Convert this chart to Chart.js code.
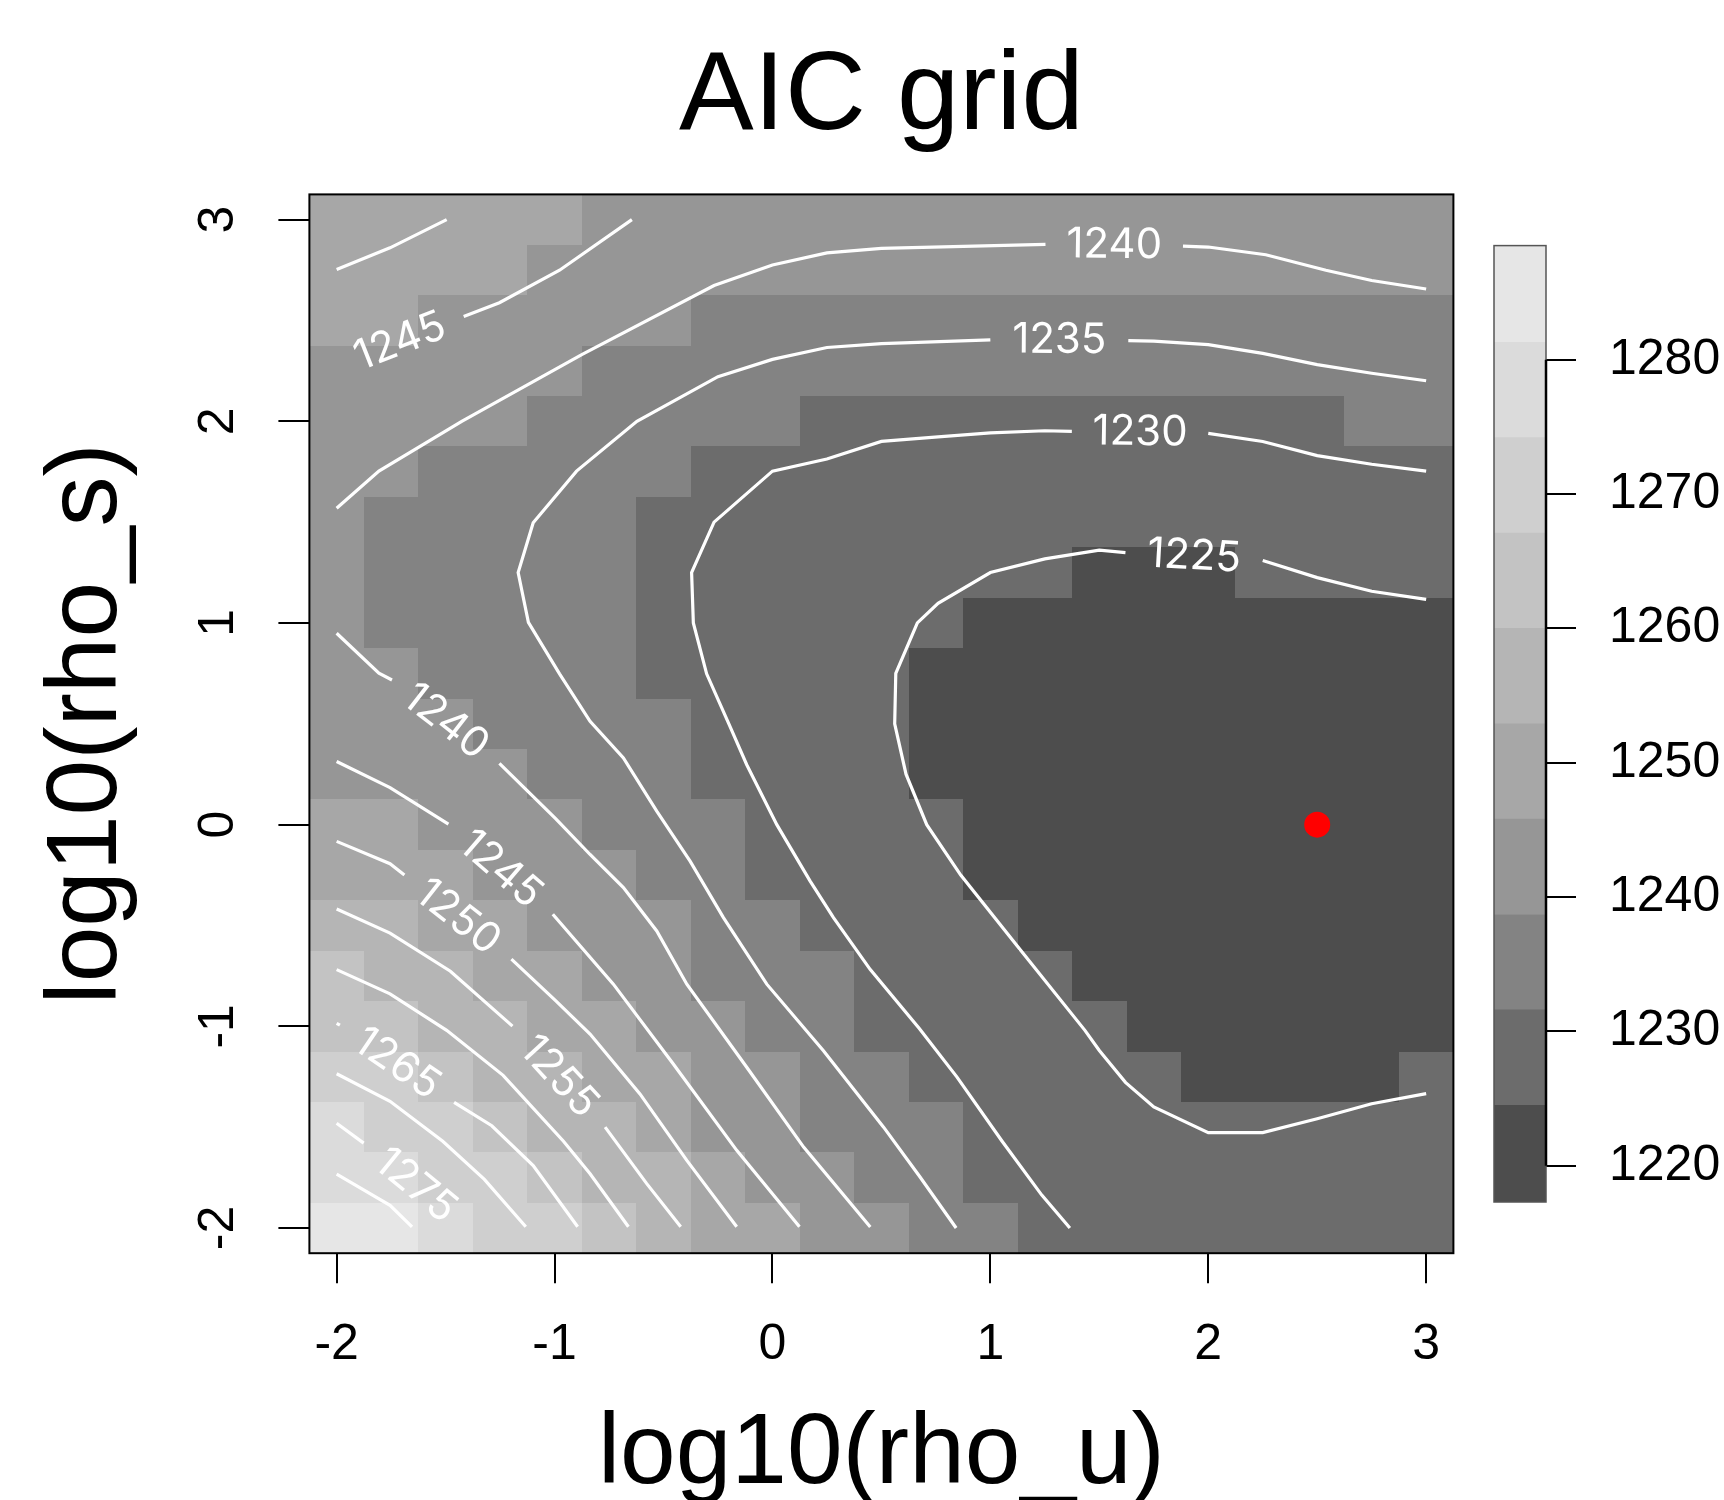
<!DOCTYPE html>
<html>
<head>
<meta charset="utf-8">
<title>AIC grid</title>
<script src="https://cdn.jsdelivr.net/npm/chart.js@4.4.1/dist/chart.umd.min.js"></script>
<style>
  html, body { margin: 0; padding: 0; background: #fff; }
  #wrap { position: relative; width: 1724px; height: 1500px; overflow: hidden; }
  #grid { position: absolute; left: 0; top: 0; }
  #bar { position: absolute; left: 1460px; top: 0; }
</style>
</head>
<body>
<div id="wrap">
  <canvas id="grid" width="1724" height="1500"></canvas>
  <canvas id="bar" width="264" height="1500"></canvas>
</div>
<script>
const FONT = "'Liberation Sans', Arial, Helvetica, sans-serif";

// grid of log10(rho_u) (columns) and log10(rho_s) (rows, listed top to bottom)
const rhoU = [-2, -1.75, -1.5, -1.25, -1, -0.75, -0.5, -0.25, 0, 0.25, 0.5, 0.75, 1, 1.25, 1.5, 1.75, 2, 2.25, 2.5, 2.75, 3];
const rhoS = [3, 2.75, 2.5, 2.25, 2, 1.75, 1.5, 1.25, 1, 0.75, 0.5, 0.25, 0, -0.25, -0.5, -0.75, -1, -1.25, -1.5, -1.75, -2];

// AIC per grid cell, one row per rhoS value
const aic = [
  [1252.5, 1251.5, 1250.0, 1249.1, 1247.5, 1245.7, 1244.9, 1243.4, 1242.5, 1241.8, 1241.5, 1241.4, 1241.3, 1241.3, 1241.3, 1241.4, 1241.5, 1241.9, 1242.5, 1243.0, 1243.8],
  [1250.0, 1248.9, 1247.6, 1246.6, 1245.1, 1243.4, 1242.2, 1240.8, 1239.7, 1239.1, 1238.8, 1238.8, 1238.8, 1238.8, 1238.8, 1238.8, 1238.8, 1239.2, 1240.0, 1240.6, 1241.0],
  [1247.4, 1246.3, 1245.3, 1244.1, 1242.5, 1241.0, 1239.6, 1238.0, 1237.1, 1236.4, 1236.2, 1236.1, 1236.0, 1236.0, 1236.0, 1236.1, 1236.3, 1236.7, 1237.3, 1237.8, 1238.3],
  [1244.8, 1243.9, 1242.8, 1241.5, 1240.0, 1238.5, 1236.9, 1235.3, 1234.5, 1234.0, 1233.6, 1233.4, 1233.3, 1233.3, 1233.3, 1233.4, 1233.5, 1234.0, 1234.4, 1235.1, 1235.5],
  [1243.1, 1241.8, 1240.4, 1239.0, 1237.9, 1236.1, 1234.4, 1233.4, 1232.2, 1231.4, 1231.0, 1230.8, 1230.4, 1230.5, 1230.6, 1230.6, 1230.7, 1231.1, 1231.4, 1232.4, 1232.8],
  [1241.3, 1239.6, 1238.5, 1237.4, 1236.0, 1234.0, 1232.6, 1231.4, 1230.0, 1229.6, 1229.2, 1229.0, 1228.6, 1228.4, 1228.3, 1228.3, 1228.4, 1228.7, 1229.1, 1229.9, 1230.0],
  [1239.6, 1238.5, 1237.3, 1235.9, 1234.5, 1232.6, 1231.3, 1229.9, 1228.9, 1228.2, 1227.7, 1227.4, 1226.8, 1226.4, 1226.2, 1226.2, 1226.3, 1226.6, 1227.1, 1227.7, 1228.0],
  [1239.1, 1237.9, 1236.6, 1235.3, 1233.8, 1232.0, 1230.8, 1228.9, 1228.3, 1227.0, 1226.7, 1225.9, 1225.0, 1224.6, 1224.2, 1224.1, 1224.2, 1224.6, 1225.2, 1225.7, 1226.0],
  [1239.7, 1238.5, 1236.8, 1235.5, 1234.2, 1232.1, 1230.9, 1228.6, 1228.0, 1226.5, 1226.0, 1224.7, 1223.7, 1223.0, 1222.8, 1222.7, 1222.6, 1222.6, 1222.9, 1223.3, 1223.8],
  [1241.6, 1239.8, 1237.9, 1236.6, 1235.3, 1232.9, 1231.4, 1229.3, 1228.0, 1226.4, 1225.5, 1224.2, 1223.0, 1222.6, 1222.3, 1222.1, 1222.0, 1221.8, 1221.9, 1222.2, 1222.5],
  [1243.5, 1242.0, 1240.1, 1238.3, 1237.0, 1234.4, 1232.6, 1230.6, 1228.4, 1226.6, 1225.2, 1224.0, 1222.8, 1222.3, 1222.0, 1221.8, 1221.5, 1221.3, 1221.2, 1221.5, 1221.8],
  [1245.7, 1244.4, 1242.6, 1240.5, 1238.5, 1236.2, 1233.9, 1231.4, 1229.2, 1227.3, 1225.5, 1224.2, 1222.8, 1222.2, 1221.9, 1221.5, 1221.2, 1220.9, 1220.8, 1221.0, 1221.3],
  [1249.0, 1247.4, 1245.1, 1242.9, 1240.4, 1238.1, 1235.1, 1233.0, 1230.3, 1228.4, 1226.4, 1224.7, 1223.0, 1222.3, 1221.9, 1221.5, 1221.1, 1220.7, 1220.6, 1220.9, 1221.1],
  [1252.5, 1250.8, 1248.1, 1245.4, 1242.9, 1240.1, 1237.2, 1234.2, 1231.4, 1229.5, 1227.5, 1225.8, 1223.6, 1222.6, 1222.1, 1221.6, 1221.2, 1220.8, 1220.8, 1221.0, 1221.2],
  [1256.4, 1254.4, 1251.5, 1248.5, 1245.6, 1242.5, 1239.3, 1235.7, 1233.1, 1230.6, 1228.6, 1226.8, 1225.3, 1223.4, 1222.5, 1221.9, 1221.4, 1221.1, 1221.0, 1221.3, 1221.5],
  [1260.6, 1258.5, 1255.6, 1252.0, 1248.6, 1244.9, 1241.6, 1237.8, 1234.5, 1232.3, 1229.8, 1228.0, 1226.5, 1224.9, 1223.0, 1222.3, 1221.8, 1221.5, 1221.5, 1221.7, 1222.0],
  [1265.3, 1262.5, 1259.7, 1256.0, 1251.9, 1248.1, 1243.9, 1240.0, 1236.6, 1234.0, 1231.4, 1229.4, 1227.7, 1226.1, 1224.6, 1222.8, 1222.2, 1222.1, 1222.1, 1222.3, 1222.6],
  [1270.3, 1267.2, 1263.5, 1259.9, 1255.4, 1251.3, 1246.7, 1242.5, 1238.8, 1235.9, 1233.3, 1230.9, 1228.9, 1227.3, 1225.8, 1224.6, 1223.0, 1222.8, 1222.9, 1223.6, 1224.6],
  [1275.4, 1272.0, 1268.3, 1264.5, 1259.6, 1254.6, 1250.0, 1245.1, 1241.3, 1238.0, 1235.1, 1232.6, 1230.1, 1228.4, 1227.0, 1225.5, 1224.8, 1224.8, 1225.3, 1225.7, 1226.3],
  [1280.3, 1276.5, 1272.6, 1268.5, 1263.6, 1258.3, 1253.3, 1248.4, 1244.1, 1240.1, 1237.1, 1234.3, 1231.4, 1229.6, 1228.2, 1226.7, 1226.3, 1226.5, 1226.9, 1227.3, 1227.8],
  [1284.5, 1282.3, 1277.4, 1272.5, 1267.5, 1262.0, 1256.5, 1251.7, 1247.0, 1242.3, 1239.2, 1236.0, 1232.6, 1230.7, 1229.3, 1227.9, 1227.5, 1227.9, 1228.3, 1228.7, 1229.2]
];

// colour key: ten grey bands
const colourBreaks = [1217.3, 1224.5, 1231.6, 1238.7, 1245.8, 1252.9, 1260.0, 1267.1, 1274.2, 1281.3, 1288.5];
const greyShades = ['#4d4d4d', '#6c6c6c', '#838383', '#969696', '#a7a7a7', '#b5b5b5', '#c3c3c3', '#cfcfcf', '#dbdbdb', '#e6e6e6'];

const axisTicks = [-2, -1, 0, 1, 2, 3];
const keyTicks = [1220, 1230, 1240, 1250, 1260, 1270, 1280];

// contour lines as [log10(rho_u), log10(rho_s)]; a break between parts holds the label
const contour1225 = [
  [[3.0, 1.117], [2.75, 1.157], [2.5, 1.225], [2.25, 1.31]],
  [[1.62, 1.349], [1.5, 1.361], [1.25, 1.318], [1.0, 1.25], [0.76, 1.097], [0.665, 1.0], [0.566, 0.75], [0.561, 0.5], [0.613, 0.25], [0.708, 0.0], [0.864, -0.25], [1.14, -0.624], [1.434, -1.02], [1.5, -1.12], [1.62, -1.278], [1.75, -1.4], [2.0, -1.527], [2.25, -1.527], [2.5, -1.458], [2.75, -1.384], [3.0, -1.334]]
];
const contour1230 = [
  [[3.0, 1.753], [2.75, 1.787], [2.5, 1.83], [2.25, 1.9], [2.0, 1.94]],
  [[1.374, 1.95], [1.25, 1.953], [1.0, 1.943], [0.76, 1.923], [0.5, 1.9], [0.25, 1.813], [0.0, 1.753], [-0.268, 1.5], [-0.371, 1.25], [-0.363, 1.0], [-0.302, 0.748], [-0.2, 0.5], [-0.118, 0.297], [0.02, 0.0], [0.173, -0.28], [0.28, -0.461], [0.449, -0.719], [0.674, -1.011], [0.847, -1.252], [1.054, -1.57], [1.236, -1.837], [1.365, -2.0]]
];
const contour1235 = [
  [[3.0, 2.201], [2.75, 2.238], [2.5, 2.281], [2.25, 2.337], [2.0, 2.38], [1.75, 2.397], [1.633, 2.4]],
  [[1.0, 2.404], [0.5, 2.385], [0.25, 2.366], [0.0, 2.307], [-0.25, 2.221], [-0.622, 2.0], [-0.899, 1.753], [-1.098, 1.497], [-1.167, 1.25], [-1.12, 1.003], [-0.977, 0.748], [-0.837, 0.512], [-0.684, 0.331], [-0.531, 0.067], [-0.378, -0.181], [-0.225, -0.461], [-0.026, -0.791], [0.234, -1.121], [0.51, -1.5], [0.674, -1.742], [0.843, -2.0]]
];
const contour1240Top = [
  [[3.0, 2.656], [2.75, 2.698], [2.54, 2.749], [2.264, 2.826], [2.0, 2.864], [1.884, 2.869]],
  [[1.253, 2.877], [0.5, 2.857], [0.25, 2.835], [0.0, 2.775], [-0.268, 2.673], [-0.873, 2.332], [-1.426, 2.0], [-1.806, 1.753], [-2.0, 1.569]]
];
const contour1240Low = [
  [[-2.0, 0.949], [-1.806, 0.751], [-1.746, 0.717]],
  [[-1.253, 0.304], [-0.994, 0.029], [-0.837, -0.148], [-0.684, -0.312], [-0.531, -0.527], [-0.393, -0.791], [-0.118, -1.203], [0.143, -1.599], [0.449, -1.995]]
];
const contour1245Top = [
  [[-2.0, 2.27]],
  [[-1.417, 2.519], [-1.253, 2.588], [-0.977, 2.749], [-0.645, 3.0]]
];
const contour1245Low = [
  [[-2.0, 0.313], [-1.755, 0.184], [-1.487, 0.003]],
  [[-1.008, -0.444], [-0.73, -0.791], [-0.455, -1.187], [-0.164, -1.615], [0.124, -1.994]]
];
const contour1250Top = [
  [[-2.0, 2.753], [-1.755, 2.86], [-1.495, 3.0]]
];
const contour1250Low = [
  [[-2.0, -0.083], [-1.755, -0.194], [-1.689, -0.25]],
  [[-1.198, -0.667], [-0.994, -0.874], [-0.837, -1.038], [-0.608, -1.335], [-0.393, -1.665], [-0.164, -1.994]]
];
const contour1255 = [
  [[-2.0, -0.418], [-1.755, -0.538], [-1.478, -0.727], [-1.193, -0.999]],
  [[-0.768, -1.5], [-0.577, -1.78], [-0.421, -1.994]]
];
const contour1260 = [
  [[-2.0, -0.719], [-1.755, -0.839], [-1.495, -1.02], [-1.236, -1.243], [-0.959, -1.57], [-0.837, -1.731], [-0.661, -1.994]]
];
const contour1265 = [
  [[-2.0, -0.985], [-1.985, -0.994]],
  [[-1.461, -1.377], [-1.288, -1.493], [-1.098, -1.69], [-0.894, -1.994]]
];
const contour1270 = [
  [[-2.0, -1.235], [-1.755, -1.372], [-1.513, -1.57], [-1.322, -1.759], [-1.132, -1.994]]
];
const contour1275 = [
  [[-2.0, -1.481], [-1.876, -1.579]],
  [[-1.4, -2.0]]
];
const contour1280 = [
  [[-2.0, -1.733], [-1.755, -1.888], [-1.654, -1.994]]
];

const contours = [
  {level: 1225, parts: contour1225}, {level: 1230, parts: contour1230},
  {level: 1235, parts: contour1235}, {level: 1240, parts: contour1240Top},
  {level: 1240, parts: contour1240Low}, {level: 1245, parts: contour1245Top},
  {level: 1245, parts: contour1245Low}, {level: 1250, parts: contour1250Top},
  {level: 1250, parts: contour1250Low}, {level: 1255, parts: contour1255},
  {level: 1260, parts: contour1260}, {level: 1265, parts: contour1265},
  {level: 1270, parts: contour1270}, {level: 1275, parts: contour1275},
  {level: 1280, parts: contour1280}
];

function shadeFor(v) {
    for (let k = 0; k < greyShades.length; k++) {
        if (v < colourBreaks[k + 1]) return greyShades[k];
    }
    return greyShades[greyShades.length - 1];
}

// lowest AIC on the grid
let best = {i: 0, j: 0};
aic.forEach((row, j) => row.forEach((v, i) => {
    if (v < aic[best.j][best.i]) best = {i, j};
}));

const halfU = (rhoU[1] - rhoU[0]) / 2;
const halfS = (rhoS[0] - rhoS[1]) / 2;

const heatmapPlugin = {
    id: "heatmap",
    beforeDatasetsDraw(chart) {
        const {ctx, chartArea: area, scales: {x, y}} = chart;
        ctx.save();
        ctx.beginPath();
        ctx.rect(area.left, area.top, area.width, area.height);
        ctx.clip();
        aic.forEach((row, j) => row.forEach((v, i) => {
            const x0 = Math.round(x.getPixelForValue(rhoU[i] - halfU));
            const x1 = Math.round(x.getPixelForValue(rhoU[i] + halfU));
            const y0 = Math.round(y.getPixelForValue(rhoS[j] + halfS));
            const y1 = Math.round(y.getPixelForValue(rhoS[j] - halfS));
            ctx.fillStyle = shadeFor(v);
            ctx.fillRect(x0, y0, x1 - x0, y1 - y0);
        }));
        ctx.restore();
    }
};

const contourLabelPlugin = {
    id: "contourLabels",
    afterDatasetsDraw(chart) {
        const {ctx, scales: {x, y}} = chart;
        ctx.save();
        ctx.fillStyle = "#ffffff";
        ctx.font = "400 42px Inter, " + FONT;
        ctx.textAlign = "center";
        ctx.textBaseline = "middle";
        contours.forEach(c => {
            for (let k = 0; k + 1 < c.parts.length; k++) {
                const a = c.parts[k][c.parts[k].length - 1];
                const b = c.parts[k + 1][0];
                const ax = x.getPixelForValue(a[0]), ay = y.getPixelForValue(a[1]);
                const bx = x.getPixelForValue(b[0]), by = y.getPixelForValue(b[1]);
                let ang = Math.atan2(by - ay, bx - ax);
                if (ang > Math.PI / 2) ang -= Math.PI;
                if (ang < -Math.PI / 2) ang += Math.PI;
                ctx.save();
                ctx.translate((ax + bx) / 2, (ay + by) / 2);
                ctx.rotate(ang);
                ctx.fillText(String(c.level), 0, 0);
                ctx.restore();
            }
        });
        ctx.restore();
    }
};

const framePlugin = {
    id: "frame",
    afterDraw(chart) {
        const {ctx, chartArea: area} = chart;
        ctx.save();
        ctx.strokeStyle = "#000";
        ctx.lineWidth = 2;
        ctx.strokeRect(area.left, area.top, area.width, area.height);
        ctx.restore();
    }
};

const contourDatasets = [];
contours.forEach(c => c.parts.forEach(part => {
    contourDatasets.push({
        data: part.map(p => ({x: p[0], y: p[1]})),
        showLine: true,
        borderColor: "#ffffff",
        borderWidth: 3.2,
        pointRadius: 0,
        tension: 0
    });
}));

const tickFont = {family: FONT, size: 50};

new Chart(document.getElementById("grid"), {
    type: "scatter",
    data: {
        datasets: [
            ...contourDatasets,
            {
                data: [{x: rhoU[best.i], y: rhoS[best.j]}],
                pointRadius: 13,
                backgroundColor: "#ff0000",
                borderWidth: 0,
                showLine: false
            }
        ]
    },
    options: {
        responsive: false,
        animation: false,
        events: [],
        layout: {padding: {left: 0, right: 270.6, top: 0, bottom: 0}},
        plugins: {
            legend: {display: false},
            tooltip: {enabled: false},
            title: {
                display: true,
                text: "AIC grid",
                fullSize: false,
                color: "#000",
                font: {family: FONT, size: 112, weight: "normal", lineHeight: 1},
                padding: {top: 42, bottom: 40.4}
            }
        },
        scales: {
            x: {
                type: "linear",
                min: rhoU[0] - halfU,
                max: rhoU[rhoU.length - 1] + halfU,
                border: {display: false},
                grid: {drawOnChartArea: false, tickLength: 30, color: "#000", lineWidth: 2},
                ticks: {font: tickFont, color: "#000", padding: 32, maxRotation: 0, autoSkip: false, callback: v => String(v)},
                title: {display: true, text: "log10(rho_u)", color: "#000", font: {family: FONT, size: 100, lineHeight: 1}, padding: {top: 0, bottom: -5}},
                afterBuildTicks: s => { s.ticks = axisTicks.map(v => ({value: v})); },
                afterFit: s => { s.height = 246.8; }
            },
            y: {
                type: "linear",
                min: rhoS[rhoS.length - 1] - halfS,
                max: rhoS[0] + halfS,
                border: {display: false},
                grid: {drawOnChartArea: false, tickLength: 31, color: "#000", lineWidth: 2},
                ticks: {font: tickFont, color: "#000", padding: 37, minRotation: 90, maxRotation: 90, crossAlign: "center", autoSkip: false, callback: v => String(v)},
                title: {display: true, text: "log10(rho_s)", color: "#000", font: {family: FONT, size: 100, lineHeight: 1}, padding: {top: 38, bottom: 0}},
                afterBuildTicks: s => { s.ticks = axisTicks.map(v => ({value: v})); },
                afterFit: s => { s.width = 309.4; }
            }
        }
    },
    plugins: [heatmapPlugin, contourLabelPlugin, framePlugin]
});

// colour key
const keyAxisPlugin = {
    id: "keyAxis",
    afterDraw(chart) {
        const {ctx, chartArea: area, scales: {y}} = chart;
        ctx.save();
        ctx.strokeStyle = "#555";
        ctx.lineWidth = 1.5;
        ctx.strokeRect(area.left, area.top, area.width, area.height);
        ctx.strokeStyle = "#000";
        ctx.lineWidth = 2.5;
        ctx.beginPath();
        ctx.moveTo(area.right, y.getPixelForValue(keyTicks[0]));
        ctx.lineTo(area.right, y.getPixelForValue(keyTicks[keyTicks.length - 1]));
        ctx.stroke();
        ctx.restore();
    }
};

new Chart(document.getElementById("bar"), {
    type: "bar",
    data: {
        labels: [""],
        datasets: greyShades.map((shade, k) => ({
            data: [[colourBreaks[k], colourBreaks[k + 1]]],
            backgroundColor: shade,
            borderWidth: 0,
            grouped: false,
            barPercentage: 1,
            categoryPercentage: 1
        }))
    },
    options: {
        responsive: false,
        animation: false,
        events: [],
        layout: {padding: {left: 34, right: 0, top: 245.6, bottom: 298}},
        plugins: {legend: {display: false}, tooltip: {enabled: false}},
        scales: {
            x: {display: false},
            y: {
                position: "right",
                min: colourBreaks[0],
                max: colourBreaks[colourBreaks.length - 1],
                border: {display: false},
                grid: {drawOnChartArea: false, tickLength: 30, color: "#000", lineWidth: 2},
                ticks: {font: tickFont, color: "#000", padding: 33, autoSkip: false, callback: v => String(v)},
                afterBuildTicks: s => { s.ticks = keyTicks.map(v => ({value: v})); },
                afterFit: s => { s.width = 178; }
            }
        }
    },
    plugins: [keyAxisPlugin]
});
</script>
</body>
</html>
